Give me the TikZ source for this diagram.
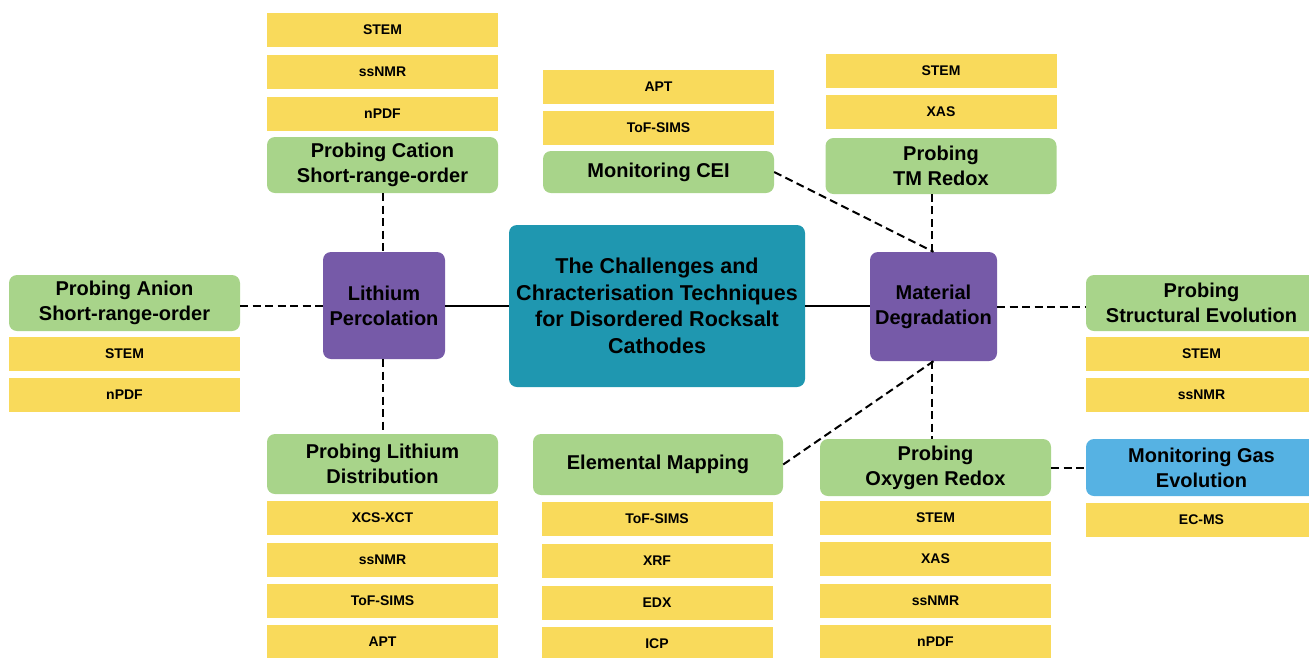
\documentclass[tikz,border=0pt]{standalone}
\usepackage{fontspec}
\setmainfont{Liberation Sans}
\definecolor{techYellow}{HTML}{F9DA5B}
\definecolor{probeGreen}{HTML}{A8D48A}
\definecolor{hubPurple}{HTML}{765AA8}
\definecolor{mainTeal}{HTML}{1F97B0}
\definecolor{gasBlue}{HTML}{56B2E3}

\begin{document}
\begin{tikzpicture}
[x=1pt,y=-1pt,
  techDecorate/.style={shape=rectangle,fill=techYellow,inner sep=0pt,
    minimum width=231pt,minimum height=34pt,
    font=\fontsize{14}{16}\selectfont\bfseries},%
  probeDecorate/.style={shape=rectangle,rounded corners=8pt,fill=probeGreen,
    inner sep=0pt,minimum width=231pt,align=center,
    font=\fontsize{20}{25}\selectfont\bfseries},%
  hubDecorate/.style={shape=rectangle,rounded corners=8pt,fill=hubPurple,
    inner sep=0pt,align=center,font=\fontsize{20}{25}\selectfont\bfseries},%
  lineDecorate/.style={-,line width=2pt},%
  dashDecorate/.style={-,line width=2pt,dash pattern=on 8pt off 4.5pt}]
\clip (0,0) rectangle (1309,657);
\useasboundingbox (0,0) rectangle (1309,657);
%% central and hub nodes
\node (main) at (657,306) [hubDecorate,fill=mainTeal,minimum width=296pt,
  minimum height=162pt,font=\fontsize{21.5}{26.5}\selectfont\bfseries]
  {The Challenges and\\Chracterisation Techniques\\for Disordered Rocksalt\\Cathodes};
\node (perc) at (384,305.5) [hubDecorate,minimum width=122pt,minimum height=107pt]
  {Lithium\\Percolation};
\node (degr) at (933.5,306.5) [hubDecorate,minimum width=127pt,minimum height=109pt]
  {Material\\Degradation};
%% probing nodes
\foreach \nodename/\x/\y/\h/\txt in {
  cation/382.5/165/56/{Probing Cation\\Short-range-order},
  anion/124.5/303/56/{Probing Anion\\Short-range-order},
  lidist/382.5/464/60/{Probing Lithium\\Distribution},
  cei/658.5/172/42/{Monitoring CEI},
  tmredox/941/166/56/{Probing\\TM Redox},
  struct/1201.5/303/56/{Probing\\Structural Evolution},
  oxredox/935.5/467.5/57/{Probing\\Oxygen Redox}}
{
  \node (\nodename) at (\x,\y) [probeDecorate,minimum height=\h pt] {\txt};
}
\node (elmap) at (658,464.5) [probeDecorate,minimum width=250pt,minimum height=61pt]
  {Elemental Mapping};
\node (gas) at (1201.5,467.5) [probeDecorate,fill=gasBlue,minimum height=57pt]
  {Monitoring Gas\\Evolution};
%% technique nodes
\foreach \nodename/\x/\y/\txt in {
  cationA/382.5/30/STEM, cationB/382.5/72/ssNMR, cationC/382.5/114/nPDF,
  ceiA/658.5/87/APT, ceiB/658.5/128/ToF-SIMS,
  tmA/941/71/STEM, tmB/941/112/XAS,
  anionA/124.5/354/STEM, anionB/124.5/395/nPDF,
  structA/1201.5/354/STEM, structB/1201.5/395/ssNMR,
  lidistA/382.5/518/XCS-XCT, lidistB/382.5/560/ssNMR,
  lidistC/382.5/601/ToF-SIMS, lidistD/382.5/642/APT,
  elmapA/657/519/ToF-SIMS, elmapB/657/560.5/XRF,
  elmapC/657/602.5/EDX, elmapD/657/644/ICP,
  oxA/935.5/518/STEM, oxB/935.5/559/XAS,
  oxC/935.5/601/ssNMR, oxD/935.5/642/nPDF,
  gasA/1201.5/520/EC-MS}
{
  \node (\nodename) at (\x,\y) [techDecorate] {\txt};
}
%% edges or lines
\draw[lineDecorate] (perc.east) -- (perc.east -| main.west);
\draw[lineDecorate] (main.east) -- (main.east -| degr.west);
\draw[dashDecorate] (cation.south) -- (cation.south |- perc.north);
\draw[dashDecorate] (perc.south -| cation.south) -- (lidist.north);
\draw[dashDecorate] (anion.east |- perc.west) -- (perc.west);
\draw[dashDecorate] (degr.east) -- (degr.east -| struct.west);
\draw[dashDecorate] (degr.north -| 932,0) -- (tmredox.south -| 932,0);
\draw[dashDecorate] (degr.south -| 932,0) -- (oxredox.north -| 932,0);
\path
\foreach \startnode/\endnode in {cei.east/degr.north, elmap.east/degr.south,
  oxredox.east/gas.west}
{
  (\startnode) edge[dashDecorate] (\endnode)
};
\end{tikzpicture}
\end{document}
